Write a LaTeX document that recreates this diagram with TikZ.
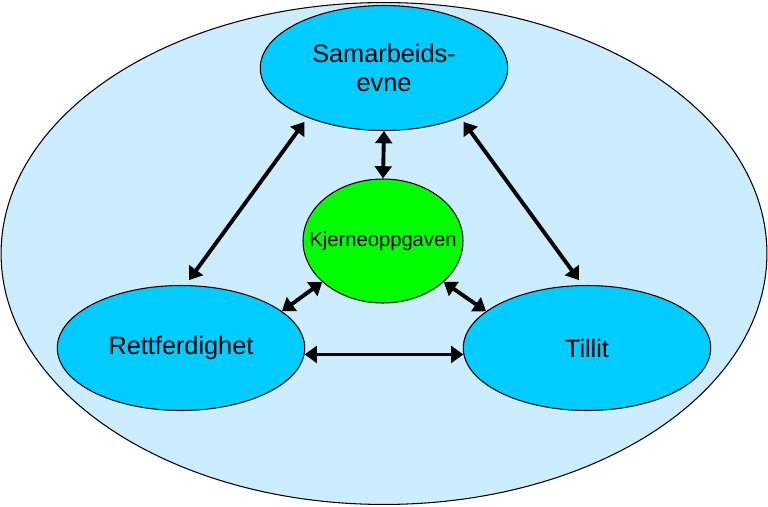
\documentclass[tikz,border=0pt]{standalone}
\usepackage{fontspec}
\setmainfont{Liberation Sans}
\usetikzlibrary{arrows.meta,shapes.geometric}
\definecolor{paleblue}{HTML}{CCECFF}
\definecolor{skyblue}{HTML}{00CCFF}
\definecolor{brightgreen}{HTML}{00FF00}
\tikzset{
	oval/.style={draw=black, line width=0.6pt, ellipse, inner sep=0pt, align=center},
	valueoval/.style={oval, fill=skyblue, minimum width=4.95cm, minimum height=2.5cm, font=\fontsize{14.4}{17}\selectfont},
	link/.style={line width=2.2pt, {Triangle[length=7pt,width=9.5pt]}-{Triangle[length=7pt,width=9.5pt]}}
}
\begin{document}
\begin{tikzpicture}[x=0.02cm, y=-0.02cm]
			%%%%% START %%%%%
			\useasboundingbox (0, 0) rectangle (768, 507);
			
			\node[oval, fill=paleblue, minimum width=15.32cm, minimum height=10.04cm] (frame) at (384, 253.5) {};
			
			\node[valueoval] (samar) at (384, 68) {\raisebox{-2pt}{Samarbeids-}\\\raisebox{-2pt}{evne}};
			\node[valueoval] (rett) at (181, 348) {\raisebox{-2pt}{\makebox[0pt]{Rettferdighet}}};
			\node[valueoval] (tillit) at (587, 348) {\raisebox{-1pt}{Tillit}};
			
			\node[oval, fill=brightgreen, minimum width=3.2cm, minimum height=2.48cm, font=\fontsize{11.5}{13}\selectfont] (kjerne) at (383, 241) {\makebox[0pt]{Kjerneoppgaven}};
			
			\draw[link, shorten <=3.5pt, shorten >=3pt] (rett.86) -- (samar.213);
			\draw[link, shorten <=3pt, shorten >=3.5pt] (samar.-33) -- (tillit.94);
			\draw[link] (samar.south) -- (kjerne.north);
			\draw[link] (rett.20) -- (kjerne.214);
			\draw[link] (kjerne.-34) -- (tillit.160);
			\draw[link] (rett.-3) -- (tillit.183);
			%%%%% END %%%%%
		\end{tikzpicture}
\end{document}
